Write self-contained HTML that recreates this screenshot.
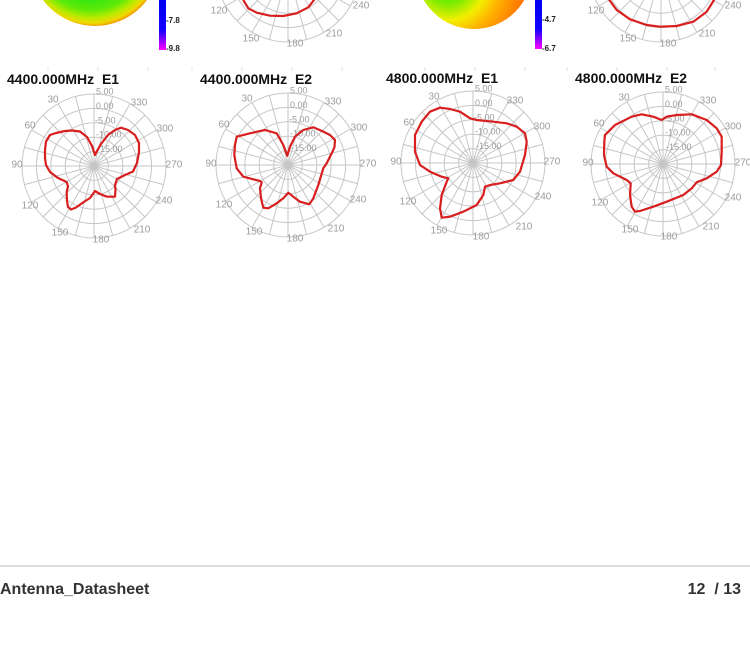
<!DOCTYPE html>
<html>
<head>
<meta charset="utf-8">
<style>
  html, body { margin: 0; padding: 0; background: #ffffff; }
  body { width: 750px; height: 650px; overflow: hidden; }
  svg { display: block; }
  .ttl { font-family: "Liberation Sans", Arial, sans-serif; font-weight: bold; font-size: 14px; fill: #111; white-space: pre; }
  .ang { font-family: "Liberation Sans", Arial, sans-serif; font-size: 10px; fill: #9c9c9c; text-anchor: middle; dominant-baseline: central; }
  .rng { font-family: "Liberation Sans", Arial, sans-serif; font-size: 9px; fill: #9c9c9c; }
  .cb { font-family: "Liberation Sans", Arial, sans-serif; font-weight: bold; font-size: 8px; fill: #222; }
  .ft { font-family: "Liberation Sans", Arial, sans-serif; font-weight: bold; font-size: 16px; fill: #333; white-space: pre; }
  .curve { fill: none; stroke: #d81e1e; stroke-width: 2.2; stroke-linejoin: round; stroke-linecap: round; }
</style>
</head>
<body>
<svg width="750" height="650" viewBox="0 0 750 650" xmlns="http://www.w3.org/2000/svg" xml:space="preserve">
  <defs>
    <g id="grid" fill="none" stroke="#c6c6c6" stroke-width="1">
      <circle cx="0" cy="0" r="14.4"/>
      <circle cx="0" cy="0" r="28.8"/>
      <circle cx="0" cy="0" r="43.2"/>
      <circle cx="0" cy="0" r="57.6"/>
      <circle cx="0" cy="0" r="72"/>
      <line x1="0" y1="-72" x2="0" y2="72"/>
      <line x1="0" y1="-72" x2="0" y2="72" transform="rotate(15)"/>
      <line x1="0" y1="-72" x2="0" y2="72" transform="rotate(30)"/>
      <line x1="0" y1="-72" x2="0" y2="72" transform="rotate(45)"/>
      <line x1="0" y1="-72" x2="0" y2="72" transform="rotate(60)"/>
      <line x1="0" y1="-72" x2="0" y2="72" transform="rotate(75)"/>
      <line x1="0" y1="-72" x2="0" y2="72" transform="rotate(90)"/>
      <line x1="0" y1="-72" x2="0" y2="72" transform="rotate(105)"/>
      <line x1="0" y1="-72" x2="0" y2="72" transform="rotate(120)"/>
      <line x1="0" y1="-72" x2="0" y2="72" transform="rotate(135)"/>
      <line x1="0" y1="-72" x2="0" y2="72" transform="rotate(150)"/>
      <line x1="0" y1="-72" x2="0" y2="72" transform="rotate(165)"/>
    </g>
    <radialGradient id="blobA" gradientUnits="userSpaceOnUse" cx="92" cy="-45" r="72" fx="85" fy="-50">
      <stop offset="0" stop-color="#10e010"/>
      <stop offset="0.6" stop-color="#28e612"/>
      <stop offset="0.78" stop-color="#60ea08"/>
      <stop offset="0.88" stop-color="#b8ea00"/>
      <stop offset="0.95" stop-color="#f0d800"/>
      <stop offset="1" stop-color="#f09000"/>
    </radialGradient>
    <radialGradient id="blobB" gradientUnits="userSpaceOnUse" cx="448" cy="-18" r="85">
      <stop offset="0" stop-color="#22ee00"/>
      <stop offset="0.25" stop-color="#7aec00"/>
      <stop offset="0.45" stop-color="#f2ee00"/>
      <stop offset="0.62" stop-color="#ffb400"/>
      <stop offset="0.85" stop-color="#ff8000"/>
      <stop offset="1" stop-color="#ff6600"/>
    </radialGradient>
    <linearGradient id="cbar" x1="0" y1="0" x2="0" y2="1">
      <stop offset="0" stop-color="#0000f0"/>
      <stop offset="0.6" stop-color="#1400ff"/>
      <stop offset="0.78" stop-color="#7a00ff"/>
      <stop offset="1" stop-color="#ff00ff"/>
    </linearGradient>
  </defs>

  <!-- ===== Top strip: remnants of previous row ===== -->
  <circle cx="95" cy="-39" r="65" fill="url(#blobA)"/>
  <rect x="159" y="0" width="7" height="50" fill="url(#cbar)"/>
  <text class="cb" x="166" y="23">-7.8</text>
  <text class="cb" x="166" y="51">-9.8</text>

  <use href="#grid" x="288" y="-30"/>
  <text class="ang" x="219" y="11">120</text>
  <text class="ang" x="251" y="39">150</text>
  <text class="ang" x="295" y="44">180</text>
  <text class="ang" x="334" y="34">210</text>
  <text class="ang" x="361" y="6">240</text>
  <polyline class="curve" points="242,-4 243.3,0 248.3,8.3 256.7,12.7 270,15.7 283.3,16 296.7,13.3 308.3,7.3 314,0 315,-4"/>

  <circle cx="474" cy="-29" r="58" fill="url(#blobB)"/>
  <rect x="535" y="0" width="7" height="49" fill="url(#cbar)"/>
  <text class="cb" x="542" y="22">-4.7</text>
  <text class="cb" x="542" y="51">-6.7</text>

  <use href="#grid" x="661" y="-30"/>
  <text class="ang" x="596" y="11">120</text>
  <text class="ang" x="628" y="39">150</text>
  <text class="ang" x="668" y="44">180</text>
  <text class="ang" x="707" y="34">210</text>
  <text class="ang" x="733" y="6">240</text>
  <polyline class="curve" points="608,-4 609.3,0 616.7,10 630,19.3 646.7,25 660,26.7 676.7,26 693.3,21.7 706.7,11.7 714,0 715,-4"/>

  <!-- faint separator ticks -->
  <g stroke="#e2e2e2" stroke-width="1">
    <line x1="48" y1="67" x2="48" y2="71"/><line x1="98" y1="67" x2="98" y2="71"/>
    <line x1="148" y1="67" x2="148" y2="71"/><line x1="192" y1="67" x2="192" y2="71"/>
    <line x1="242" y1="67" x2="242" y2="71"/><line x1="292" y1="67" x2="292" y2="71"/>
    <line x1="342" y1="67" x2="342" y2="71"/><line x1="425" y1="67" x2="425" y2="71"/>
    <line x1="475" y1="67" x2="475" y2="71"/><line x1="525" y1="67" x2="525" y2="71"/>
    <line x1="567" y1="67" x2="567" y2="71"/><line x1="617" y1="67" x2="617" y2="71"/>
    <line x1="667" y1="67" x2="667" y2="71"/><line x1="715" y1="67" x2="715" y2="71"/>
  </g>

  <!-- ===== Plot 1: 4400 E1 (center 94,166) ===== -->
  <text class="ttl" x="7" y="84">4400.000MHz  E1</text>
  <use href="#grid" x="94" y="166"/>
  <text class="rng" x="96" y="94.5">5.00</text>
  <text class="rng" x="96" y="108.9">0.00</text>
  <text class="rng" x="95" y="123.3">-5.00</text>
  <text class="rng" x="96" y="137.7">-10.00</text>
  <text class="rng" x="97" y="152.1">-15.00</text>
  <text class="ang" x="53" y="100">30</text>
  <text class="ang" x="30" y="126">60</text>
  <text class="ang" x="17" y="165">90</text>
  <text class="ang" x="30" y="206">120</text>
  <text class="ang" x="60" y="233">150</text>
  <text class="ang" x="101" y="240">180</text>
  <text class="ang" x="142" y="230">210</text>
  <text class="ang" x="164" y="201">240</text>
  <text class="ang" x="174" y="165">270</text>
  <text class="ang" x="165" y="129">300</text>
  <text class="ang" x="139" y="103">330</text>
  <polyline class="curve" points="95,155 92,146 87,137 80,131.5 72,130.5 65,131 56,133 50,135 46,141.5 45,150 45,158 46,165 50,172 58,178 66.7,182 68,186.5 66.7,192 67,201 68,207 71,209.5 76,207.5 83,202.5 90,198 95,191 100,194 107,196.7 115,196.7 115.5,190 115,185 117,179 125,175 133,171.5 137,163 139,152 139,143 135,135 128,130 121,127.7 115,130 108,135 101,144 97,151 95,155"/>

  <!-- ===== Plot 2: 4400 E2 (center 288,165) ===== -->
  <text class="ttl" x="200" y="84">4400.000MHz  E2</text>
  <use href="#grid" x="288" y="165"/>
  <text class="rng" x="290" y="93.5">5.00</text>
  <text class="rng" x="290" y="107.9">0.00</text>
  <text class="rng" x="289" y="122.3">-5.00</text>
  <text class="rng" x="290" y="136.7">-10.00</text>
  <text class="rng" x="291" y="151.1">-15.00</text>
  <text class="ang" x="247" y="99">30</text>
  <text class="ang" x="224" y="125">60</text>
  <text class="ang" x="211" y="164">90</text>
  <text class="ang" x="224" y="205">120</text>
  <text class="ang" x="254" y="232">150</text>
  <text class="ang" x="295" y="239">180</text>
  <text class="ang" x="336" y="229">210</text>
  <text class="ang" x="358" y="200">240</text>
  <text class="ang" x="368" y="164">270</text>
  <text class="ang" x="359" y="128">300</text>
  <text class="ang" x="333" y="102">330</text>
  <polyline class="curve" points="287.3,155.7 290,146.7 295,136.7 303.3,130 313.3,127.3 322,131 330,135 335,140 334.5,147 333.3,150 326.7,163.3 323.3,168.3 318.3,185 313.3,198.3 309.3,204.3 300,201.7 293.3,196.7 288.3,192.7 283.3,198.3 276.7,203.3 268.3,208.3 263.3,207.7 261,198.3 260,188.3 261.7,182.3 260,181 243.3,176.7 236.7,168.3 234.3,155 235,145 236.7,136.7 250,133.3 265,130 276.7,133.3 283.3,145 287.3,155.7"/>

  <!-- ===== Plot 3: 4800 E1 (center 473,163) ===== -->
  <text class="ttl" x="386" y="83">4800.000MHz  E1</text>
  <use href="#grid" x="473" y="163"/>
  <text class="rng" x="475" y="91.5">5.00</text>
  <text class="rng" x="475" y="105.9">0.00</text>
  <text class="rng" x="474" y="120.3">-5.00</text>
  <text class="rng" x="475" y="134.7">-10.00</text>
  <text class="rng" x="476" y="149.1">-15.00</text>
  <text class="ang" x="434" y="97">30</text>
  <text class="ang" x="409" y="123">60</text>
  <text class="ang" x="396" y="162">90</text>
  <text class="ang" x="408" y="202">120</text>
  <text class="ang" x="439" y="231">150</text>
  <text class="ang" x="481" y="237">180</text>
  <text class="ang" x="524" y="227">210</text>
  <text class="ang" x="543" y="197">240</text>
  <text class="ang" x="552" y="162">270</text>
  <text class="ang" x="542" y="127">300</text>
  <text class="ang" x="515" y="101">330</text>
  <polyline class="curve" points="440,107.7 450,109 460,111.7 470,118.3 476.7,120 493.3,121.7 506.7,123.3 516.7,126.7 525,133.3 526.7,141.7 525,155 520,171.7 513.3,180 500,183.3 490,185 485,186.7 483.3,195 476.7,205 463.3,211.7 450,216.7 441.7,217.7 440,208.3 441.7,195 446.7,181.7 448.3,178.3 441.7,176.7 430,171.7 420,165 415,151.7 415,135 421.7,121.7 430,111.7 440,107.7"/>

  <!-- ===== Plot 4: 4800 E2 (center 663,164) ===== -->
  <text class="ttl" x="575" y="83">4800.000MHz  E2</text>
  <use href="#grid" x="663" y="164"/>
  <text class="rng" x="665" y="92.5">5.00</text>
  <text class="rng" x="665" y="106.9">0.00</text>
  <text class="rng" x="664" y="121.3">-5.00</text>
  <text class="rng" x="665" y="135.7">-10.00</text>
  <text class="rng" x="666" y="150.1">-15.00</text>
  <text class="ang" x="624" y="98">30</text>
  <text class="ang" x="599" y="124">60</text>
  <text class="ang" x="588" y="163">90</text>
  <text class="ang" x="600" y="203">120</text>
  <text class="ang" x="630" y="230">150</text>
  <text class="ang" x="669" y="237">180</text>
  <text class="ang" x="711" y="227">210</text>
  <text class="ang" x="733" y="198">240</text>
  <text class="ang" x="743" y="163">270</text>
  <text class="ang" x="733" y="127">300</text>
  <text class="ang" x="708" y="101">330</text>
  <polyline class="curve" points="605,135 615,125 631.7,116.7 641.7,114.3 653.3,116.7 661.7,120 666.7,116.7 676.7,115 691.7,114.3 706.7,120 716.7,128.3 721.7,136.7 721.7,151.7 721,165 716.7,171.7 706.7,178.3 696.7,182.3 691.7,188.3 683.3,195 666.7,201.7 653.3,206.7 640,211 635,211.7 631.7,206.7 630,195 630.7,183.3 626.7,180 613.3,173.3 606.7,166.7 604,155 604.3,141.7 605,135"/>

  <!-- ===== Footer ===== -->
  <rect x="0" y="565" width="750" height="2" fill="#dcdcdc"/>
  <text class="ft" x="0" y="594">Antenna_Datasheet</text>
  <text class="ft" x="741" y="594" text-anchor="end">12  / 13</text>
</svg>
</body>
</html>
